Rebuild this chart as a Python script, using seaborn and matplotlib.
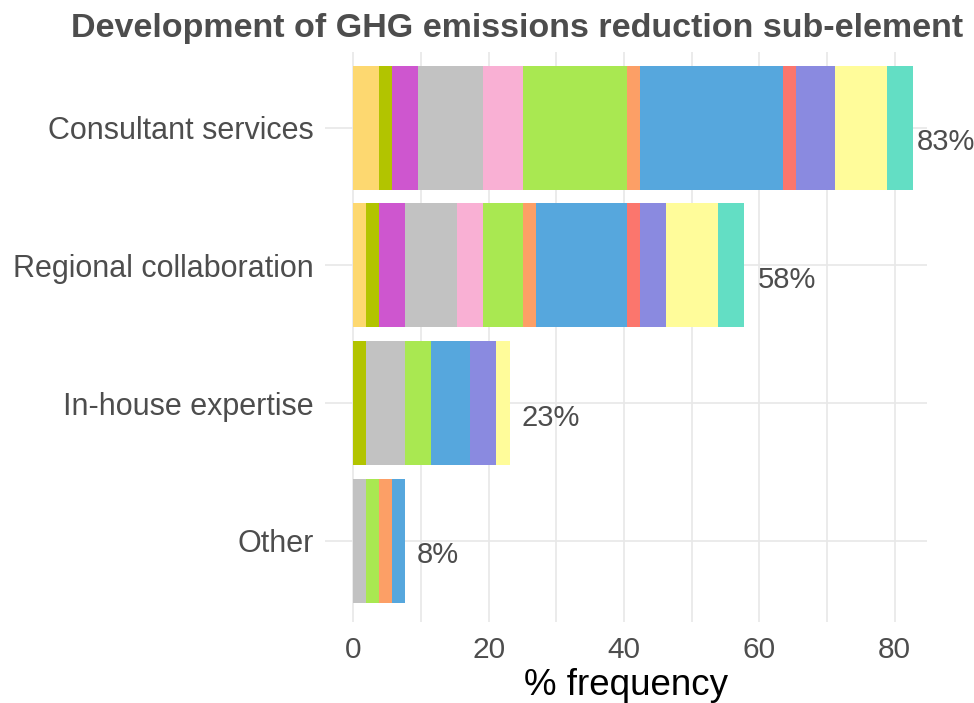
import numpy as np
import pandas as pd
import seaborn as sns
from matplotlib import pyplot as plt
from matplotlib.ticker import MultipleLocator

# respondents behind the percentages
n_total = 52

categories = ['Consultant services', 'Regional collaboration', 'In-house expertise', 'Other']
groups = ['g%02d' % i for i in range(1, 13)]

# respondents per group, one list per category (stack order left -> right)
consultant = [2, 1, 2, 5, 3, 8, 1, 11, 1, 3, 4, 2]
regional = [1, 1, 2, 4, 2, 3, 1, 7, 1, 2, 4, 2]
inhouse = [0, 1, 0, 3, 0, 2, 0, 3, 0, 2, 1, 0]
other = [0, 0, 0, 1, 0, 1, 1, 1, 0, 0, 0, 0]

colors = ['#FDD870', '#B2C400', '#CE56CF', '#C2C2C2', '#F9B0D4', '#A9E851',
          '#FC9F66', '#56A7DD', '#FB766D', '#8A8AE0', '#FFFC9A', '#63DEC4']

# label nudges (x offset after bar end), style only
label_nudge = [0.6, 2.1, 1.7, 1.7]

counts = pd.DataFrame([consultant, regional, inhouse, other], index=categories, columns=groups)
pct = counts / n_total * 100
cum = pct.cumsum(axis=1)
totals = pct.sum(axis=1)

sns.set_style('whitegrid')
plt.rcParams['font.family'] = ['Liberation Sans', 'DejaVu Sans']

fig = plt.figure(figsize=(9.74, 7.03), dpi=100)
ax = fig.add_axes([325 / 974, 81 / 703, 602 / 974, 570 / 703])

# overplot cumulative bars from the widest down so each segment shows
for j in range(len(groups) - 1, -1, -1):
    sns.barplot(x=cum[groups[j]].values, y=categories, color=colors[j], orient='h',
                width=0.9, saturation=1, linewidth=0, ax=ax)

for i, cat in enumerate(categories):
    ax.text(totals[cat] + label_nudge[i], i + 0.105, '%d%%' % round(totals[cat]),
            ha='left', va='center', fontsize=21, color='#4D4D4D', clip_on=False)

ax.set_xlim(-4.2, 84.8)
ax.set_ylim(3.59, -0.55)
ax.xaxis.set_major_locator(MultipleLocator(20))
ax.xaxis.set_minor_locator(MultipleLocator(10))
ax.grid(which='major', color='#E8E8E8', linewidth=1.2)
ax.grid(which='minor', axis='x', color='#E8E8E8', linewidth=1.2)
ax.set_axisbelow(True)
for s in ax.spines.values():
    s.set_visible(False)
ax.tick_params(axis='both', which='both', length=0, labelsize=21.5, colors='#4D4D4D')
ax.tick_params(axis='x', pad=10)
ax.tick_params(axis='y', pad=8, labelsize=22)
ax.set_ylabel('')
ax.set_xlabel('% frequency', fontsize=26.5, color='black', labelpad=3)

fig.text(517 / 974, 1 - 37 / 703, 'Development of GHG emissions reduction sub-element',
         ha='center', va='baseline', fontsize=24.5, fontweight='bold', color='#4D4D4D')

fig.savefig('out.png', dpi=100)
